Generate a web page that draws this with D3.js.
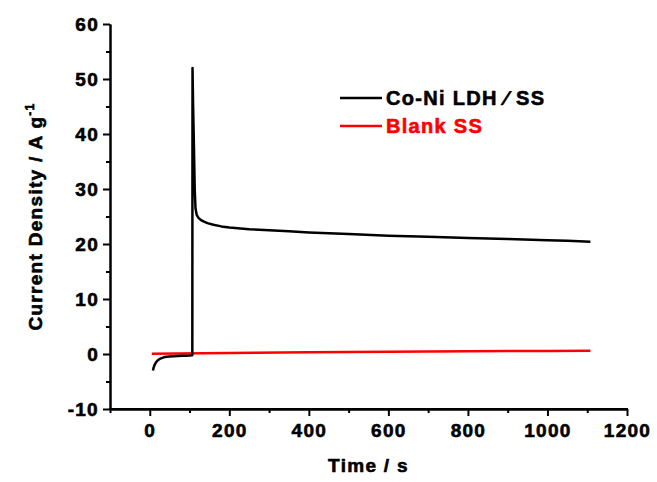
<!DOCTYPE html>
<html><head><meta charset="utf-8">
<script src="https://cdn.jsdelivr.net/npm/d3@7/dist/d3.min.js"></script>
<style>
body{margin:0;background:#fff;}
svg text{font-family:"Liberation Sans",Arial,sans-serif !important;font-weight:bold;}
</style></head>
<body><svg id="c" width="657" height="482"></svg>
<script>
// Data
const ldhTime  = [8,10,12,15,18,22,25,30,35,42,50,60,70,80,90,100,106,107,107.5,109,111,113,115,118,122,128,135,145,160,180,200,250,300,350,400,500,600,700,800,900,1000,1050,1108];
const ldhValue = [-3.0,-2.4,-2.0,-1.6,-1.3,-1.05,-0.9,-0.75,-0.6,-0.5,-0.45,-0.4,-0.35,-0.32,-0.3,-0.28,-0.25,-0.2,52,45,38,30,26.5,25.3,24.8,24.4,24.1,23.8,23.5,23.2,23.0,22.7,22.5,22.3,22.1,21.8,21.5,21.3,21.1,20.9,20.7,20.6,20.4];
const blankTime  = [5,200,400,600,800,1000,1108];
const blankValue = [0.05,0.2,0.3,0.4,0.5,0.55,0.6];
const xMajorTicks = [0,200,400,600,800,1000,1200];
const xMinorTicks = [-100,100,300,500,700,900,1100];
const yMajorTicks = [-10,0,10,20,30,40,50,60];
const yMinorTicks = [-5,5,15,25,35,45,55];
const seriesNames = ["Co-Ni LDH \u2215 SS","Blank SS"];
const seriesColors = ["#000000","#ff0000"];

const svg = d3.select("#c");
const L=110,R=627,T=24,B=409;
const x = d3.scaleLinear().domain([-100,1200]).range([L,R]);
const y = d3.scaleLinear().domain([-10,60]).range([B,T]);
const fmt = d => String(d);
const SW = 0.6;

const xAxis = svg.append("g").attr("transform",`translate(0,${B})`)
  .call(d3.axisBottom(x).tickValues(xMajorTicks).tickFormat(fmt).tickSize(7).tickPadding(8).tickSizeOuter(0));
const xMin = svg.append("g").attr("transform",`translate(0,${B})`)
  .call(d3.axisBottom(x).tickValues(xMinorTicks).tickSize(4).tickFormat("").tickSizeOuter(0));
const yAxis = svg.append("g").attr("transform",`translate(${L},0)`)
  .call(d3.axisLeft(y).tickValues(yMajorTicks).tickFormat(fmt).tickSize(7).tickPadding(4).tickSizeOuter(0));
const yMin = svg.append("g").attr("transform",`translate(${L},0)`)
  .call(d3.axisLeft(y).tickValues(yMinorTicks).tickSize(4).tickFormat("").tickSizeOuter(0));
[xAxis,xMin,yAxis,yMin].forEach(g=>{
  g.attr("font-size",null).attr("font-family",null);
  g.selectAll("path").attr("stroke","#000").attr("stroke-width",2);
  g.selectAll("line").attr("stroke","#000").attr("stroke-width",2);
  g.selectAll("text").attr("fill","#000").attr("stroke","#000").attr("stroke-width",SW)
   .style("font-size","19px").style("letter-spacing","1.3px");
});
svg.append("line").attr("x1",L-1).attr("x2",R+1).attr("y1",B).attr("y2",B).attr("stroke","#000").attr("stroke-width",2);

const line = d3.line().x(d=>x(d[0])).y(d=>y(d[1]));
svg.append("path").datum(blankTime.map((t,i)=>[t,blankValue[i]]))
  .attr("d",line).attr("fill","none").attr("stroke",seriesColors[1]).attr("stroke-width",2.5);
svg.append("path").datum(ldhTime.map((t,i)=>[t,ldhValue[i]]))
  .attr("d",line).attr("fill","none").attr("stroke",seriesColors[0]).attr("stroke-width",2.5).attr("stroke-linejoin","round");

svg.append("text").attr("x",(L+R)/2).attr("y",472).attr("text-anchor","middle")
  .attr("stroke","#000").attr("stroke-width",SW)
  .style("font-size","19px").style("letter-spacing","1.3px").text("Time / s");
const yt = svg.append("text").attr("transform",`translate(42,${(T+B)/2}) rotate(-90)`)
  .attr("text-anchor","middle").attr("stroke","#000").attr("stroke-width",SW)
  .style("font-size","19px").style("letter-spacing","1.3px");
yt.append("tspan").text("Current Density / A g");
yt.append("tspan").attr("dy",-8).style("font-size","12px").text("-1");

const leg = svg.append("g");
seriesNames.forEach((n,i)=>{
  const yy = 98 + i*28;
  leg.append("line").attr("x1",340).attr("x2",382).attr("y1",yy).attr("y2",yy)
    .attr("stroke",seriesColors[i]).attr("stroke-width",2.5);
  leg.append("text").attr("x",386).attr("y",yy+7).attr("fill",seriesColors[i])
    .attr("stroke",seriesColors[i]).attr("stroke-width",SW)
    .style("font-size","20px").style("letter-spacing","1.3px").text(n);
});
</script></body></html>
